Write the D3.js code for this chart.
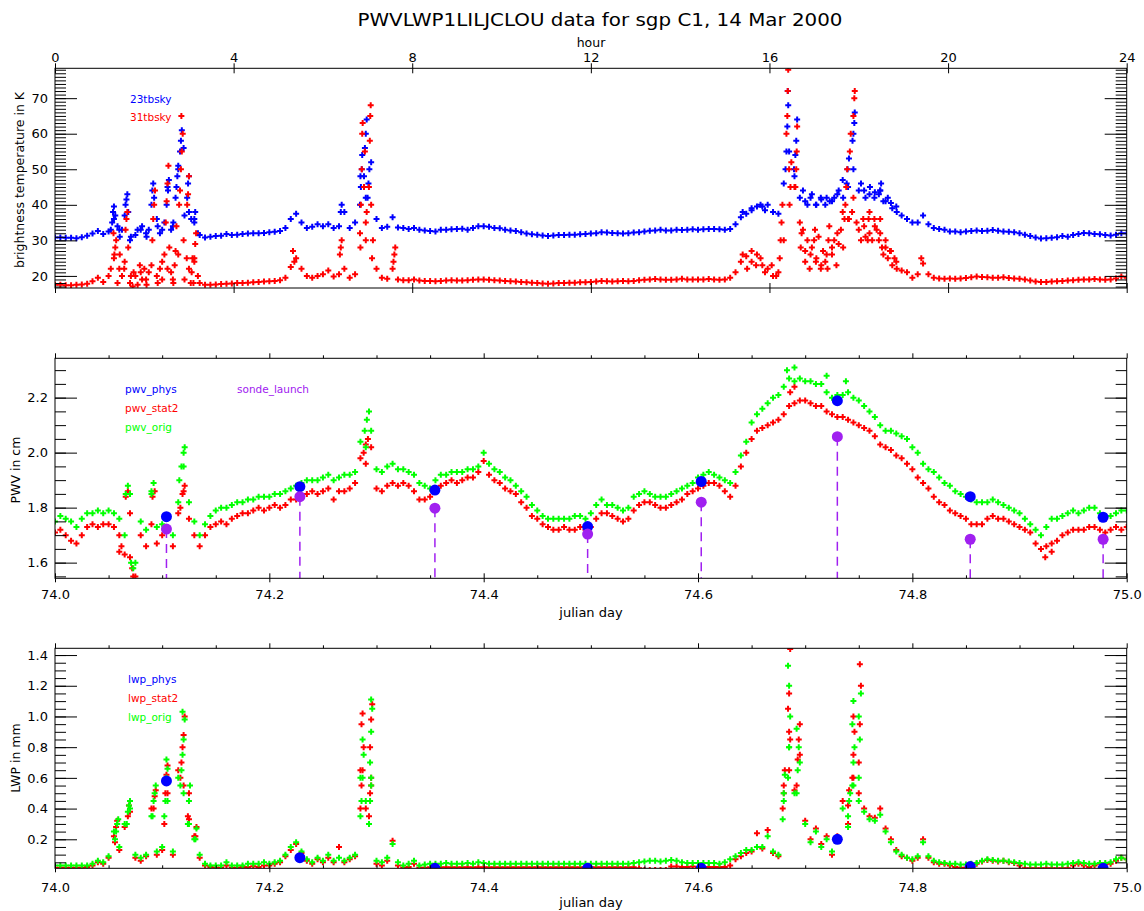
<!DOCTYPE html>
<html>
<head>
<meta charset="utf-8">
<script src="https://cdn.jsdelivr.net/npm/d3@7"></script>
<style>
  body { margin: 0; background: #fff; }
  text { font-family: "DejaVu Sans", sans-serif; }
</style>
</head>
<body>
<div id="chart"></div>
<script>
// one sample every 0.005 day, 74.000 .. 75.000 (201 samples)
var dayStart = 74.0, dayStep = 0.005;

// brightness temperatures (K)
var tb23 = [
  30.8, 30.8, 30.7, 30.7, 30.6, 30.9, 31.3, 31.9, 32.6, 31.8,
  32.5, 36, 33, 37, 30, 31.5, 33, 32, 40, 36,
  33, 45, 34, 50, 56, 38, 36, 31.5, 30.8, 31.0,
  31.2, 31.3, 31.8, 31.5, 31.6, 31.8, 31.9, 32.0, 32.0, 32.1,
  32.3, 32.4, 32.6, 33.5, 36, 37.5, 35, 33.5, 33.8, 34.5,
  34, 34.5, 33.5, 34, 38, 33.5, 35, 48, 42, 52,
  36, 33.5, 33.8, 36.5, 33.6, 33.5, 33.2, 33.5, 33.0, 32.8,
  32.6, 32.5, 33.0, 33.0, 33.1, 33.2, 33.3, 33.0, 33.5, 34.0,
  34.0, 33.8, 33.5, 33.4, 33.0, 32.8, 32.6, 32.3, 31.9, 31.7,
  31.6, 31.4, 31.2, 31.4, 31.5, 31.5, 31.6, 31.6, 31.7, 31.8,
  31.9, 32.0, 32.3, 32.2, 32.1, 32.0, 31.9, 32.0, 32.2, 32.3,
  32.5, 32.7, 32.8, 33.0, 32.8, 32.8, 33.0, 32.9, 33.0, 33.1,
  33.0, 33.1, 33.2, 33.2, 33.1, 33.0, 33.2, 34.5, 36.5, 37.5,
  38.5, 39.5, 39.5, 40, 38, 37.5, 46, 55, 48, 42,
  41, 42, 40, 41.5, 42, 41, 43, 47, 45, 50,
  44, 44, 43, 43.5, 44, 41, 40.5, 39.5, 37, 36,
  35, 35, 37, 34.5, 33.5, 33.2, 33, 32.5, 32.5, 32.3,
  32.5, 32.6, 32.8, 32.6, 32.7, 32.9, 32.7, 32.5, 32.4, 32.3,
  32, 31.6, 31.2, 30.8, 30.5, 30.6, 30.7, 30.9, 31.2, 31.0,
  31.5, 31.8, 32.1, 32.0, 31.8, 31.7, 31.5, 31.4, 31.6, 32.0,
  32.0
];
var tb31 = [
  17.5, 17.5, 17.4, 17.4, 17.5, 17.6, 17.8, 18.5, 19.5, 18.3,
  20, 25, 22, 24, 18, 20, 21, 19, 23, 20,
  24, 22, 19, 26, 30, 22, 24, 18, 17.5, 17.5,
  17.6, 17.7, 17.8, 17.9, 18.0, 18.0, 18.1, 18.2, 18.3, 18.4,
  18.5, 18.6, 18.8, 19.5, 22.5, 25, 22, 20, 19.5, 20,
  20.5, 21.5, 19.8, 20.5, 22, 19.5, 20.5, 28, 35, 40,
  22, 19.5, 19.2, 22, 19.0, 18.8, 18.8, 19.0, 18.7, 18.6,
  18.6, 18.5, 18.6, 18.7, 18.8, 18.7, 18.7, 18.8, 18.9, 19.0,
  19.0, 18.9, 18.8, 18.7, 18.6, 18.5, 18.4, 18.3, 18.2, 18.1,
  18.0, 17.9, 17.8, 17.9, 18.0, 18.0, 18.1, 18.1, 18.2, 18.2,
  18.3, 18.4, 18.6, 18.5, 18.4, 18.5, 18.6, 18.5, 18.6, 18.8,
  18.9, 19.0, 19.1, 19.0, 18.9, 18.9, 19.0, 19.2, 19.0, 19.0,
  19.0, 19.0, 19.1, 19.0, 18.9, 19.0, 19.5, 21, 24, 25.5,
  24, 26, 23, 22, 20, 21, 30, 50, 45, 35,
  27, 26, 24, 23, 26, 28, 32, 38, 36, 42,
  33, 34, 32, 34, 32, 28, 27, 24, 21.5, 21,
  19.5, 20.5, 23.5, 20.5, 19.5, 19.3, 19.2, 19.3, 19.2, 19.3,
  19.4, 19.6, 19.8, 19.7, 19.6, 19.5, 19.5, 19.6, 19.4, 19.3,
  19.2, 19.0, 18.7, 18.4, 18.3, 18.3, 18.4, 18.5, 18.6, 18.7,
  18.8, 18.9, 19.0, 19.0, 19.1, 19.0, 18.9, 19.0, 19.3, 19.8,
  19.5
];
// extra samples inside the cloudy periods: [hour, K]
var tb23Extra = [
  [1.25,33],[1.28,35],[1.30,38],[1.32,39.5],[1.35,37],[1.40,34],[1.45,31],[1.50,33],
  [1.58,40],[1.60,41.5],[1.62,43],[1.64,38],[1.70,31],[1.85,33],[1.95,34],[2.05,31],[2.10,33],
  [2.18,44],[2.20,46],[2.22,42],[2.30,34],[2.35,32],[2.45,35],[2.50,40],[2.53,44],[2.55,47],
  [2.60,33],[2.65,35],[2.70,42],[2.72,45],[2.74,48],[2.76,51],[2.80,55],[2.82,58],[2.84,61],
  [2.90,37],[2.96,42],[2.98,46],[3.00,48],[3.05,36],[3.12,35],[3.14,38],[3.20,32],
  [6.40,38],[6.42,40],
  [6.83,40],[6.85,45],[6.87,50],[6.88,54],[6.92,48],[6.94,56],[6.96,60],[6.98,64],
  [7.00,42],[7.02,46],[7.04,50],
  [15.40,38],[15.60,39],[15.80,40],[15.90,38.5],
  [16.36,50],[16.38,55],[16.40,62],[16.42,68],[16.41,72],
  [16.58,54],[16.60,58],[16.62,64],[16.55,50],
  [16.75,44],[16.85,40],[16.95,43],[17.05,40],[17.15,42],[17.25,40],[17.35,41],[17.45,42],
  [17.55,44],[17.65,42],
  [17.73,46],[17.75,50],[17.78,53],[17.86,58],[17.88,60],[17.90,63],[17.91,66],
  [18.05,46],[18.15,42],[18.25,45],[18.35,42],[18.45,43],
  [18.48,44],[18.50,46],[18.55,41],[18.65,42],[18.75,39],[18.85,38]
];
var tb31Extra = [
  [1.25,22],[1.31,32],[1.33,26],[1.35,28],[1.37,30],[1.40,18],[1.45,26],[1.50,20],[1.55,22],
  [1.58,33],[1.60,36],[1.62,38],[1.64,28],[1.70,20],
  [1.74,17],[1.76,21],[1.85,17.5],[1.90,23],[1.95,19],[2.00,22],[2.05,17.5],[2.10,21],
  [2.18,30],[2.20,36],[2.22,40],[2.24,44],[2.30,18],[2.35,22],[2.40,19],[2.45,26],
  [2.48,35],[2.50,41],[2.52,46],[2.54,51],[2.56,28],[2.60,21],[2.65,18],[2.68,23],[2.70,27],[2.72,34],
  [2.78,40],[2.80,44],[2.82,50],[2.83,65],[2.84,55],[2.86,60],[2.90,19],[2.95,25],
  [2.96,40],[2.98,43],[3.00,48],[3.04,18],[3.06,21],[3.08,25],[3.10,18],
  [3.12,25],[3.14,29],[3.16,32],[3.20,20],[5.33,27],[5.36,24],
  [6.38,26],[6.40,28],[6.42,30],[6.83,32],[6.85,40],[6.87,50],[6.88,60],[6.89,63],
  [6.92,45],[6.94,55],[6.96,30],[6.98,38],[7.03,45],[7.05,58],[7.06,65],[7.07,68],
  [7.10,25],[7.12,30],[7.58,24],[7.60,26],[7.62,28],
  [15.40,26],[15.50,22],[15.60,27],[15.70,23],[15.80,25],[15.90,21],[16.05,23],[16.15,20],
  [16.23,25],[16.25,30],[16.27,35],[16.29,40],[16.38,60],[16.40,65],[16.41,72],[16.42,78],
  [16.45,40],[16.47,45],[16.49,52],[16.58,45],[16.60,50],[16.61,55],[16.62,62],
  [16.70,28],[16.72,32],[16.75,33],[16.80,24],[16.85,30],[16.90,22],[16.95,28],
  [17.00,30],[17.02,33],[17.05,25],[17.10,31],[17.15,22],[17.20,27],[17.25,24],
  [17.30,22],[17.32,30],[17.34,34],[17.40,26],[17.45,30],[17.50,23],[17.55,29],[17.60,33],[17.65,28],
  [17.68,36],[17.70,40],[17.72,45],[17.74,50],[17.78,36],[17.80,55],[17.82,60],[17.85,38],
  [17.88,65],[17.90,70],[17.91,72],[17.95,35],[18.05,30],[18.10,36],[18.15,31],
  [18.20,30],[18.22,36],[18.24,38],[18.30,30],[18.35,36],[18.40,33],[18.45,30],
  [18.48,36],[18.52,28],[18.55,26],[18.60,30],[18.65,25],[18.70,27],[18.75,23],[18.80,25],[18.85,22],
  [19.40,25]
];

// precipitable water vapour (cm)
var pwvStat2 = [
  1.71, 1.72, 1.70, 1.68, 1.67, 1.70, 1.73, 1.74, 1.73, 1.74,
  1.74, 1.73, 1.70, 1.63, 1.78, 1.55, 1.70, 1.66, 1.74, 1.67,
  1.70, 1.72, 1.66, 1.78, 1.86, 1.76, 1.70, 1.66, 1.70, 1.73,
  1.74, 1.75, 1.74, 1.76, 1.77, 1.78, 1.78, 1.79, 1.80, 1.79,
  1.80, 1.81, 1.80, 1.81, 1.83, 1.83, 1.84, 1.85, 1.86, 1.85,
  1.86, 1.87, 1.83, 1.86, 1.86, 1.87, 1.89, 1.98, 1.96, 2.02,
  1.87, 1.86, 1.88, 1.89, 1.88, 1.89, 1.88, 1.86, 1.83, 1.83,
  1.84, 1.87, 1.88, 1.89, 1.90, 1.89, 1.90, 1.91, 1.91, 1.93,
  1.97, 1.92, 1.90, 1.89, 1.87, 1.86, 1.85, 1.82, 1.80, 1.77,
  1.76, 1.74, 1.73, 1.72, 1.72, 1.73, 1.72, 1.72, 1.73, 1.72,
  1.73, 1.76, 1.78, 1.78, 1.77, 1.76, 1.75, 1.76, 1.79, 1.81,
  1.82, 1.82, 1.81, 1.80, 1.80, 1.81, 1.82, 1.83, 1.85, 1.86,
  1.87, 1.88, 1.89, 1.89, 1.88, 1.86, 1.84, 1.88, 1.95, 2.00,
  2.05, 2.08, 2.09, 2.10, 2.11, 2.12, 2.14, 2.17, 2.18, 2.19,
  2.19, 2.18, 2.17, 2.17, 2.15, 2.14, 2.13, 2.13, 2.12, 2.11,
  2.10, 2.09, 2.08, 2.06, 2.03, 2.02, 2.01, 1.99, 1.98, 1.96,
  1.94, 1.91, 1.89, 1.87, 1.84, 1.82, 1.81, 1.79, 1.78, 1.77,
  1.76, 1.74, 1.74, 1.74, 1.76, 1.77, 1.76, 1.76, 1.75, 1.74,
  1.73, 1.72, 1.71, 1.67, 1.65, 1.66, 1.67, 1.68, 1.70, 1.71,
  1.72, 1.72, 1.72, 1.73, 1.73, 1.72, 1.71, 1.72, 1.73, 1.72,
  1.73
];
var pwvOrig = [
  1.75, 1.77, 1.76, 1.75, 1.73, 1.76, 1.78, 1.78, 1.79, 1.78,
  1.79, 1.78, 1.76, 1.70, 1.85, 1.60, 1.75, 1.72, 1.85, 1.73,
  1.74, 1.77, 1.70, 1.82, 1.95, 1.82, 1.75, 1.70, 1.74, 1.77,
  1.79, 1.80, 1.80, 1.81, 1.82, 1.82, 1.83, 1.83, 1.84, 1.84,
  1.84, 1.85, 1.85, 1.86, 1.87, 1.88, 1.89, 1.90, 1.90, 1.90,
  1.91, 1.92, 1.90, 1.91, 1.92, 1.92, 1.93, 2.04, 2.02, 2.08,
  1.94, 1.93, 1.95, 1.96, 1.94, 1.94, 1.93, 1.92, 1.89, 1.88,
  1.87, 1.90, 1.92, 1.92, 1.93, 1.93, 1.93, 1.94, 1.94, 1.95,
  2.00, 1.96, 1.94, 1.93, 1.91, 1.90, 1.88, 1.86, 1.84, 1.81,
  1.79, 1.77, 1.76, 1.76, 1.76, 1.76, 1.76, 1.77, 1.77, 1.76,
  1.78, 1.81, 1.83, 1.81, 1.81, 1.80, 1.79, 1.80, 1.84, 1.85,
  1.86, 1.85, 1.84, 1.84, 1.84, 1.85, 1.86, 1.87, 1.88, 1.89,
  1.91, 1.92, 1.93, 1.92, 1.91, 1.90, 1.89, 1.93, 1.99, 2.04,
  2.11, 2.14, 2.16, 2.18, 2.20, 2.21, 2.24, 2.27, 2.26, 2.27,
  2.26, 2.26, 2.25, 2.25, 2.22, 2.20, 2.21, 2.21, 2.22, 2.20,
  2.19, 2.17, 2.15, 2.13, 2.10, 2.08, 2.08, 2.07, 2.06, 2.05,
  2.02, 2.00, 1.96, 1.94, 1.93, 1.91, 1.89, 1.88, 1.86, 1.85,
  1.84, 1.83, 1.82, 1.82, 1.82, 1.83, 1.82, 1.81, 1.80, 1.79,
  1.78, 1.76, 1.74, 1.72, 1.70, 1.73, 1.76, 1.76, 1.77, 1.78,
  1.79, 1.78, 1.79, 1.80, 1.80, 1.78, 1.77, 1.77, 1.78, 1.79,
  1.79
];
// extra samples: [julian day, cm]
var pwvStat2Extra = [
  [74.060,1.64],[74.062,1.66],[74.066,1.84],[74.068,1.86],[74.070,1.62],[74.072,1.58],[74.073,1.55],
  [74.091,1.84],[74.093,1.86],[74.117,1.80],[74.119,1.85],[74.121,1.88],
  [74.288,2.00],[74.290,2.03],[74.292,2.05],[74.686,2.22],[74.690,2.24],[74.924,1.62],[74.930,1.64]
];
var pwvOrigExtra = [
  [74.066,1.85],[74.068,1.88],[74.071,1.60],[74.073,1.58],[74.090,1.86],[74.092,1.89],
  [74.116,1.90],[74.118,1.95],[74.120,2.00],[74.121,2.02],
  [74.289,2.08],[74.291,2.12],[74.293,2.15],[74.683,2.30],[74.690,2.31],[74.720,2.28],[74.738,2.26]
];

// liquid water path (mm)
var lwpStat2 = [
  0.015, 0.015, 0.015, 0.015, 0.015, 0.015, 0.02, 0.03, 0.05, 0.04,
  0.08, 0.22, 0.13, 0.28, 0.38, 0.08, 0.06, 0.09, 0.40, 0.10,
  0.13, 0.50, 0.10, 0.65, 0.55, 0.33, 0.22, 0.08, 0.03, 0.02,
  0.015, 0.015, 0.03, 0.015, 0.015, 0.02, 0.02, 0.025, 0.02, 0.03,
  0.03, 0.04, 0.05, 0.09, 0.13, 0.17, 0.11, 0.06, 0.04, 0.07,
  0.05, 0.08, 0.05, 0.15, 0.05, 0.07, 0.09, 0.65, 0.40, 0.55,
  0.04, 0.03, 0.06, 0.19, 0.03, 0.015, 0.02, 0.04, 0.015, 0.015,
  0.018, 0.018, 0.018, 0.018, 0.018, 0.018, 0.018, 0.018, 0.018, 0.018,
  0.018, 0.018, 0.018, 0.018, 0.018, 0.018, 0.018, 0.018, 0.018, 0.018,
  0.018, 0.018, 0.018, 0.018, 0.018, 0.018, 0.018, 0.018, 0.018, 0.018,
  0.018, 0.018, 0.018, 0.018, 0.018, 0.018, 0.018, 0.018, 0.018, 0.012,
  0.0, 0.0, 0.0, 0.0, 0.0, 0.022, 0.022, 0.02, 0.02, 0.022,
  0.02, 0.02, 0.02, 0.02, 0.02, 0.02, 0.03, 0.07, 0.09, 0.11,
  0.12, 0.24, 0.14, 0.26, 0.11, 0.09, 0.50, 0.90, 0.52, 0.75,
  0.32, 0.20, 0.27, 0.17, 0.22, 0.10, 0.22, 0.45, 0.30, 0.60,
  0.50, 0.40, 0.35, 0.34, 0.40, 0.27, 0.20, 0.13, 0.09, 0.08,
  0.06, 0.08, 0.20, 0.08, 0.05, 0.04, 0.04, 0.03, 0.02, 0.015,
  0.015, 0.02, 0.04, 0.055, 0.065, 0.06, 0.055, 0.06, 0.05, 0.045,
  0.03, 0.012, 0.012, 0.012, 0.012, 0.012, 0.012, 0.012, 0.012, 0.012,
  0.03, 0.04, 0.03, 0.02, 0.03, 0.04, 0.035, 0.04, 0.06, 0.08,
  0.07
];
var lwpOrig = [
  0.03, 0.03, 0.03, 0.03, 0.03, 0.03, 0.03, 0.04, 0.06, 0.05,
  0.09, 0.25, 0.15, 0.30, 0.40, 0.10, 0.08, 0.10, 0.35, 0.12,
  0.15, 0.45, 0.12, 0.60, 0.50, 0.30, 0.20, 0.10, 0.04, 0.03,
  0.03, 0.03, 0.05, 0.03, 0.03, 0.03, 0.04, 0.04, 0.04, 0.05,
  0.04, 0.05, 0.06, 0.10, 0.15, 0.18, 0.12, 0.07, 0.05, 0.08,
  0.06, 0.10, 0.06, 0.08, 0.06, 0.08, 0.10, 0.60, 0.45, 0.60,
  0.06, 0.05, 0.08, 0.17, 0.05, 0.03, 0.04, 0.06, 0.03, 0.035,
  0.04, 0.04, 0.04, 0.045, 0.04, 0.04, 0.04, 0.045, 0.04, 0.05,
  0.045, 0.04, 0.04, 0.04, 0.04, 0.04, 0.04, 0.04, 0.04, 0.04,
  0.04, 0.04, 0.04, 0.04, 0.04, 0.04, 0.04, 0.04, 0.04, 0.04,
  0.04, 0.04, 0.04, 0.04, 0.04, 0.04, 0.04, 0.04, 0.045, 0.05,
  0.055, 0.06, 0.06, 0.055, 0.06, 0.065, 0.06, 0.05, 0.045, 0.045,
  0.045, 0.045, 0.045, 0.045, 0.04, 0.05, 0.07, 0.09, 0.11, 0.13,
  0.13, 0.15, 0.15, 0.22, 0.12, 0.10, 0.45, 0.80, 0.50, 0.70,
  0.30, 0.18, 0.25, 0.15, 0.20, 0.12, 0.20, 0.40, 0.28, 0.55,
  0.45, 0.38, 0.33, 0.32, 0.36, 0.25, 0.18, 0.12, 0.10, 0.08,
  0.07, 0.09, 0.18, 0.09, 0.06, 0.05, 0.045, 0.04, 0.04, 0.035,
  0.035, 0.04, 0.045, 0.06, 0.07, 0.065, 0.06, 0.06, 0.055, 0.05,
  0.045, 0.04, 0.035, 0.035, 0.035, 0.04, 0.035, 0.035, 0.035, 0.04,
  0.045, 0.05, 0.045, 0.04, 0.04, 0.045, 0.045, 0.05, 0.07, 0.08,
  0.07
];
// extra samples: [julian day, mm]
var lwpStat2Extra = [
  [74.056,0.18],[74.057,0.28],[74.058,0.32],[74.068,0.35],[74.069,0.42],
  [74.092,0.40],[74.093,0.48],[74.094,0.52],[74.102,0.30],[74.103,0.50],[74.104,0.62],[74.105,0.68],
  [74.117,0.60],[74.118,0.70],[74.119,0.80],[74.120,0.88],[74.121,1.00],[74.124,0.35],[74.125,0.50],
  [74.131,0.22],[74.132,0.28],
  [74.285,0.40],[74.286,0.55],[74.287,0.65],[74.288,0.80],[74.286,0.95],[74.287,1.02],
  [74.293,0.35],[74.294,0.50],[74.295,0.60],[74.294,0.80],[74.295,0.98],[74.296,1.08],
  [74.679,0.40],[74.680,0.55],[74.681,0.65],[74.685,0.65],[74.686,0.85],[74.684,1.05],[74.685,1.15],[74.686,1.44],
  [74.692,0.55],[74.693,0.72],[74.694,0.85],[74.695,0.95],[74.740,0.42],[74.741,0.52],
  [74.744,0.60],[74.745,0.75],[74.746,0.90],[74.745,1.00],[74.750,0.70],[74.751,0.95],[74.752,1.20],[74.751,1.34]
];
var lwpOrigExtra = [
  [74.056,0.20],[74.057,0.25],[74.058,0.30],[74.059,0.33],[74.067,0.30],[74.068,0.38],[74.069,0.42],[74.070,0.45],
  [74.091,0.35],[74.092,0.45],[74.093,0.50],[74.094,0.55],
  [74.102,0.35],[74.103,0.45],[74.104,0.60],[74.105,0.66],[74.104,0.72],
  [74.117,0.55],[74.118,0.65],[74.119,0.75],[74.120,0.85],[74.121,0.98],[74.119,1.03],
  [74.124,0.30],[74.125,0.45],[74.126,0.55],[74.131,0.20],[74.132,0.27],
  [74.285,0.35],[74.286,0.45],[74.287,0.60],[74.288,0.75],[74.287,0.85],
  [74.293,0.30],[74.294,0.45],[74.295,0.55],[74.294,0.70],[74.295,0.90],[74.296,1.05],[74.295,1.11],
  [74.679,0.33],[74.680,0.50],[74.681,0.62],[74.684,0.60],[74.685,0.80],[74.686,1.00],[74.685,1.20],[74.684,1.33],
  [74.692,0.50],[74.693,0.65],[74.694,0.80],[74.692,0.92],
  [74.740,0.35],[74.741,0.45],[74.742,0.50],[74.744,0.55],[74.745,0.70],[74.746,0.80],[74.744,0.95],[74.745,1.10],
  [74.750,0.60],[74.751,0.85],[74.750,1.00],[74.752,1.15]
];

// sonde launches and the physical retrieval at those times
var sondeDay = [74.104, 74.2285, 74.3545, 74.497, 74.603, 74.730, 74.854, 74.978];
var sondePwv = [1.722, 1.840, 1.798, 1.704, 1.820, 2.058, 1.685, 1.685];
var pwvPhys = [1.767, 1.876, 1.864, 1.731, 1.895, 2.189, 1.840, 1.765];
var lwpPhys = [0.58, 0.08, 0.011, 0.011, 0.011, 0.20, 0.022, 0.011];

// ticks
var hourTicks = [0, 4, 8, 12, 16, 20, 24];
var tbTicks = [20, 30, 40, 50, 60, 70];
var pwvTicks = [1.6, 1.8, 2.0, 2.2];
var lwpTicks = [0.2, 0.4, 0.6, 0.8, 1.0, 1.2, 1.4];
var dayTicks = [74.0, 74.2, 74.4, 74.6, 74.8, 75.0];

var BLUE = "#0000ff", RED = "#ff0000", GREEN = "#00ff00", PURPLE = "#a020f0";

var width = 1144, height = 911;
var xL = 55, xR = 1126.7;
var p1 = {top: 68.3, bottom: 288},
    p2 = {top: 358.3, bottom: 578.3},
    p3 = {top: 648.3, bottom: 868.3};

var svg = d3.select("#chart")
  .append("svg")
    .attr("width", width)
    .attr("height", height);

var xHour = d3.scaleLinear().domain([0, 24]).range([xL, xR]);
var xDay = d3.scaleLinear().domain([74, 75]).range([xL, xR]);
var yTb = d3.scaleLinear().domain([16.6, 78.4]).range([p1.bottom, p1.top]);
var yPwv = d3.scaleLinear().domain([1.543, 2.343]).range([p2.bottom, p2.top]);
var yLwp = d3.scaleLinear().domain([0.011, 1.444]).range([p3.bottom, p3.top]);

function dayOf(i) { return dayStart + i * dayStep; }
function series(vals) { return vals.map(function(v, i) { return [dayOf(i), v]; }); }
function seriesHour(vals) { return vals.map(function(v, i) { return [(dayOf(i) - 74) * 24, v]; }); }

// clip each panel to its box
var defs = svg.append("defs");
[p1, p2, p3].forEach(function(p, k) {
  defs.append("clipPath").attr("id", "clip" + k)
    .append("rect")
      .attr("x", xL).attr("y", p.top)
      .attr("width", xR - xL).attr("height", p.bottom - p.top);
});

var plus = "M-3,0H3M0,-3V3";
function plotPlus(g, pts, x, y, color) {
  g.append("g")
    .selectAll("path")
    .data(pts)
    .enter().append("path")
      .attr("d", plus)
      .attr("transform", function(d) { return "translate(" + x(d[0]) + "," + y(d[1]) + ")"; })
      .attr("fill", "none")
      .attr("stroke", color)
      .attr("stroke-width", 2);
}

function styleAxis(g, size) {
  g.select(".domain").remove();
  g.attr("font-size", size || 13).attr("font-family", "DejaVu Sans, sans-serif");
  g.selectAll("line").attr("stroke", "#000");
}

// left + right y ticks (inward), labels on the left
function yAxes(p, y, major, minor, fmt) {
  svg.append("g")
    .attr("transform", "translate(" + xL + ",0)")
    .call(d3.axisLeft(y).tickValues(minor).tickSize(-11).tickFormat(""))
    .call(styleAxis);
  svg.append("g")
    .attr("transform", "translate(" + xL + ",0)")
    .call(d3.axisLeft(y).tickValues(major).tickSize(-22).tickPadding(7).tickFormat(fmt))
    .call(styleAxis);
  svg.append("g")
    .attr("transform", "translate(" + xR + ",0)")
    .call(d3.axisRight(y).tickValues(minor).tickSize(-11).tickFormat(""))
    .call(styleAxis);
  svg.append("g")
    .attr("transform", "translate(" + xR + ",0)")
    .call(d3.axisRight(y).tickValues(major).tickSize(-22).tickFormat(""))
    .call(styleAxis);
}

function frame(p) {
  svg.append("rect")
    .attr("x", xL).attr("y", p.top)
    .attr("width", xR - xL).attr("height", p.bottom - p.top)
    .attr("fill", "none").attr("stroke", "#000").attr("stroke-width", 1);
}

function label(x, y, txt, size, color, anchor) {
  return svg.append("text")
    .attr("x", x).attr("y", y)
    .attr("fill", color || "#000")
    .style("font-size", (size || 13) + "px")
    .attr("text-anchor", anchor || "start")
    .text(txt);
}

// title
label(600, 26, "PWVLWP1LILJCLOU data for sgp C1, 14 Mar 2000", 18, "#000", "middle")
  .attr("textLength", 485).attr("lengthAdjust", "spacingAndGlyphs");

// ---------- panel 1: brightness temperatures ----------
var g1 = svg.append("g").attr("clip-path", "url(#clip0)");
plotPlus(g1, seriesHour(tb23).concat(tb23Extra), xHour, yTb, BLUE);
plotPlus(g1, seriesHour(tb31).concat(tb31Extra), xHour, yTb, RED);

frame(p1);
yAxes(p1, yTb, tbTicks, d3.range(17, 79, 1), d3.format("d"));

svg.append("g")
  .attr("transform", "translate(0," + p1.top + ")")
  .call(d3.axisTop(xHour).tickValues(hourTicks).tickSize(5).tickPadding(1).tickFormat(d3.format("d")))
  .call(styleAxis);
svg.append("g")
  .attr("transform", "translate(0," + p1.top + ")")
  .call(d3.axisTop(xHour).tickValues(hourTicks).tickSize(-5).tickFormat(""))
  .call(styleAxis);
svg.append("g")
  .attr("transform", "translate(0," + p1.bottom + ")")
  .call(d3.axisBottom(xHour).tickValues(hourTicks).tickSize(5).tickFormat(""))
  .call(styleAxis);
svg.append("g")
  .attr("transform", "translate(0," + p1.bottom + ")")
  .call(d3.axisBottom(xHour).tickValues(hourTicks).tickSize(-5).tickFormat(""))
  .call(styleAxis);

label(591, 47, "hour", 12.5, "#000", "middle");
label(0, 0, "brightness temperature in K", 12.5, "#000", "middle")
  .attr("transform", "translate(24,180) rotate(-90)");
label(130, 103, "23tbsky", 10.5, BLUE);
label(130, 121, "31tbsky", 10.5, RED);

// ---------- day axes for panels 2 and 3 ----------
function dayAxes(p, labelOffset) {
  var minor = d3.range(74.05, 75.0, 0.05).filter(function(d) { return Math.abs(d * 5 - Math.round(d * 5)) > 1e-6; });
  svg.append("g")
    .attr("transform", "translate(0," + p.top + ")")
    .call(d3.axisTop(xDay).tickValues(minor).tickSize(3).tickFormat(""))
    .call(styleAxis);
  svg.append("g")
    .attr("transform", "translate(0," + p.top + ")")
    .call(d3.axisTop(xDay).tickValues(dayTicks).tickSize(5).tickFormat(""))
    .call(styleAxis);
  svg.append("g")
    .attr("transform", "translate(0," + p.bottom + ")")
    .call(d3.axisBottom(xDay).tickValues(minor).tickSize(-3).tickFormat(""))
    .call(styleAxis);
  svg.append("g")
    .attr("transform", "translate(0," + p.bottom + ")")
    .call(d3.axisBottom(xDay).tickValues(dayTicks).tickSize(-5).tickPadding(labelOffset).tickFormat(d3.format(".1f")))
    .call(styleAxis);
  svg.append("g")
    .attr("transform", "translate(0," + p.bottom + ")")
    .call(d3.axisBottom(xDay).tickValues(dayTicks).tickSize(4).tickFormat(""))
    .call(styleAxis);
}

// ---------- panel 2: PWV ----------
var g2 = svg.append("g").attr("clip-path", "url(#clip1)");
plotPlus(g2, series(pwvStat2).concat(pwvStat2Extra), xDay, yPwv, RED);
plotPlus(g2, series(pwvOrig).concat(pwvOrigExtra), xDay, yPwv, GREEN);

g2.append("g")
  .selectAll("line")
  .data(sondeDay)
  .enter().append("line")
    .attr("x1", function(d) { return xDay(d); })
    .attr("x2", function(d) { return xDay(d); })
    .attr("y1", function(d, i) { return yPwv(sondePwv[i]); })
    .attr("y2", p2.bottom)
    .attr("stroke", PURPLE)
    .attr("stroke-width", 1.5)
    .attr("stroke-dasharray", "9,6");

g2.append("g")
  .selectAll("circle")
  .data(sondeDay)
  .enter().append("circle")
    .attr("cx", function(d) { return xDay(d); })
    .attr("cy", function(d, i) { return yPwv(pwvPhys[i]); })
    .attr("r", 5.5)
    .attr("fill", BLUE);

g2.append("g")
  .selectAll("circle")
  .data(sondeDay)
  .enter().append("circle")
    .attr("cx", function(d) { return xDay(d); })
    .attr("cy", function(d, i) { return yPwv(sondePwv[i]); })
    .attr("r", 5.5)
    .attr("fill", PURPLE);

frame(p2);
yAxes(p2, yPwv, pwvTicks, d3.range(1.55, 2.34, 0.05), d3.format(".1f"));
dayAxes(p2, 11);

label(591, 617, "julian day", 13, "#000", "middle");
label(0, 0, "PWV in cm", 12.5, "#000", "middle")
  .attr("transform", "translate(20,470) rotate(-90)");
label(125, 393, "pwv_phys", 10.5, BLUE);
label(125, 411.5, "pwv_stat2", 10.5, RED);
label(125, 431, "pwv_orig", 10.5, GREEN);
label(237, 393, "sonde_launch", 10.5, PURPLE);

// ---------- panel 3: LWP ----------
var g3 = svg.append("g").attr("clip-path", "url(#clip2)");
plotPlus(g3, series(lwpStat2).concat(lwpStat2Extra), xDay, yLwp, RED);
plotPlus(g3, series(lwpOrig).concat(lwpOrigExtra), xDay, yLwp, GREEN);

g3.append("g")
  .selectAll("circle")
  .data(sondeDay)
  .enter().append("circle")
    .attr("cx", function(d) { return xDay(d); })
    .attr("cy", function(d, i) { return yLwp(lwpPhys[i]); })
    .attr("r", 5.5)
    .attr("fill", BLUE);

frame(p3);
yAxes(p3, yLwp, lwpTicks, d3.range(0.05, 1.44, 0.05), d3.format(".1f"));
dayAxes(p3, 14);

label(591, 907, "julian day", 13, "#000", "middle");
label(0, 0, "LWP in mm", 12.5, "#000", "middle")
  .attr("transform", "translate(20,758) rotate(-90)");
label(128, 683, "lwp_phys", 10.5, BLUE);
label(128, 702, "lwp_stat2", 10.5, RED);
label(128, 721, "lwp_orig", 10.5, GREEN);
</script>
</body>
</html>
